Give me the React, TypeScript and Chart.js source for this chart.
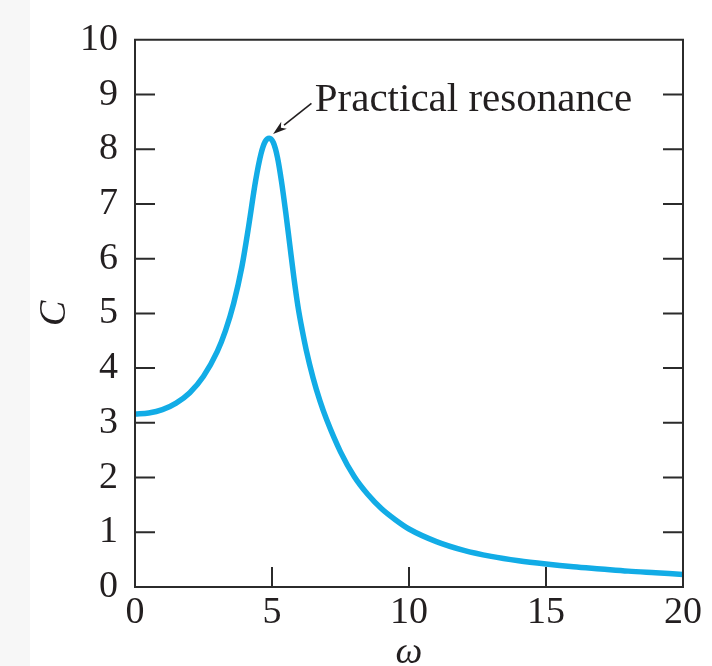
import React, { useEffect, useRef } from 'react';
import { Chart, registerables } from 'chart.js';

Chart.register(...registerables);

// ω values (x) and amplitude C(ω) (y)
const omega = [0, 0.5, 1, 1.5, 2, 2.5, 3, 3.3, 3.6, 3.9, 4.15, 4.4, 4.6, 4.75, 4.9, 5.05, 5.2, 5.35, 5.5, 5.65, 5.8, 5.95, 6.1, 6.25, 6.5, 6.75, 7.0, 7.5, 8.0, 8.5, 9.0, 9.5, 10, 11, 12, 13, 14, 15, 16, 17, 18, 19, 20];
const amplitude = [3.16, 3.18, 3.24, 3.36, 3.55, 3.85, 4.3, 4.68, 5.18, 5.85, 6.6, 7.42, 7.92, 8.14, 8.2, 8.12, 7.85, 7.4, 6.85, 6.25, 5.65, 5.12, 4.7, 4.33, 3.82, 3.4, 3.05, 2.47, 2.02, 1.69, 1.43, 1.23, 1.06, 0.83, 0.67, 0.56, 0.48, 0.42, 0.37, 0.33, 0.29, 0.26, 0.23];

const xTickValues = [0, 5, 10, 15, 20];
const yTickValues = [0, 1, 2, 3, 4, 5, 6, 7, 8, 9, 10];

const xTitle = 'ω';
const yTitle = 'C';
const annotationText = 'Practical resonance';
// annotation anchor (data units): text start, arrow start and arrow tip
const annotationTextAt = [6.56, 8.69];
const arrowFrom = [6.44, 8.84];
const arrowTo = [5.04, 8.28];

const INK = '#231f20';
const CURVE = '#12ace6';
const SERIF = '"Liberation Serif", "Times New Roman", serif';

const framePlugin = {
  id: 'frameAndTicks',
  afterDatasetsDraw(chart: any) {
    const { ctx, chartArea, scales } = chart;
    const xs = scales.x;
    const ys = scales.y;
    const { left, right, top, bottom } = chartArea;
    const tickLen = 20;
    ctx.save();
    ctx.strokeStyle = '#2b2b2b';
    ctx.lineWidth = 2;
    ctx.lineCap = 'butt';
    yTickValues.forEach((v) => {
      if (v === 0 || v === 10) return;
      const py = ys.getPixelForValue(v);
      ctx.beginPath();
      ctx.moveTo(left, py);
      ctx.lineTo(left + tickLen, py);
      ctx.moveTo(right, py);
      ctx.lineTo(right - tickLen, py);
      ctx.stroke();
    });
    xTickValues.forEach((v) => {
      if (v === 0 || v === 20) return;
      const px = xs.getPixelForValue(v);
      ctx.beginPath();
      ctx.moveTo(px, bottom);
      ctx.lineTo(px, bottom - tickLen);
      ctx.stroke();
    });
    ctx.beginPath();
    ctx.rect(left, top, right - left, bottom - top);
    ctx.stroke();

    // annotation
    ctx.fillStyle = INK;
    ctx.font = `41px ${SERIF}`;
    ctx.textAlign = 'left';
    ctx.textBaseline = 'alphabetic';
    ctx.fillText(annotationText, xs.getPixelForValue(annotationTextAt[0]), ys.getPixelForValue(annotationTextAt[1]));

    const x1 = xs.getPixelForValue(arrowFrom[0]);
    const y1 = ys.getPixelForValue(arrowFrom[1]);
    const x2 = xs.getPixelForValue(arrowTo[0]);
    const y2 = ys.getPixelForValue(arrowTo[1]);
    const ang = Math.atan2(y2 - y1, x2 - x1);
    const headLen = 14;
    const headW = 4.5;
    const bx = x2 - headLen * Math.cos(ang);
    const by = y2 - headLen * Math.sin(ang);
    ctx.strokeStyle = INK;
    ctx.lineWidth = 1.6;
    ctx.beginPath();
    ctx.moveTo(x1, y1);
    ctx.lineTo(bx, by);
    ctx.stroke();
    ctx.beginPath();
    ctx.moveTo(x2, y2);
    ctx.lineTo(bx + headW * Math.sin(ang), by - headW * Math.cos(ang));
    ctx.lineTo(x2 - (headLen - 4) * Math.cos(ang), y2 - (headLen - 4) * Math.sin(ang));
    ctx.lineTo(bx - headW * Math.sin(ang), by + headW * Math.cos(ang));
    ctx.closePath();
    ctx.fill();
    ctx.restore();
  },
};

export default function App() {
  const canvasRef = useRef<HTMLCanvasElement | null>(null);

  useEffect(() => {
    if (!canvasRef.current) return;
    const points = omega.map((w, i) => ({ x: w, y: amplitude[i] }));
    const chart = new Chart(canvasRef.current, {
      type: 'line',
      data: {
        datasets: [
          {
            data: points,
            borderColor: CURVE,
            borderWidth: 5.5,
            pointRadius: 0,
            fill: false,
            cubicInterpolationMode: 'monotone',
          },
        ],
      },
      options: {
        animation: false,
        responsive: false,
        maintainAspectRatio: false,
        layout: { padding: { top: 39, right: 29, left: 0, bottom: 0 } },
        plugins: {
          legend: { display: false },
          tooltip: { enabled: false },
        },
        scales: {
          x: {
            type: 'linear',
            min: 0,
            max: 20,
            afterBuildTicks: (s: any) => {
              s.ticks = xTickValues.map((v) => ({ value: v }));
            },
            afterFit: (s: any) => {
              s.height = 79;
            },
            ticks: {
              font: { family: SERIF, size: 38 },
              color: INK,
              padding: 3,
              maxRotation: 0,
              autoSkip: false,
            },
            grid: { display: false, drawTicks: false },
            border: { display: false },
            title: {
              display: true,
              text: xTitle,
              color: INK,
              font: { family: SERIF, size: 38, style: 'italic', lineHeight: 0.8 },
              padding: { top: 0, bottom: -2 },
            },
          },
          y: {
            type: 'linear',
            min: 0,
            max: 10,
            afterBuildTicks: (s: any) => {
              s.ticks = yTickValues.map((v) => ({ value: v }));
            },
            afterFit: (s: any) => {
              s.width = 135;
            },
            ticks: {
              font: { family: SERIF, size: 38 },
              color: INK,
              padding: 17,
              autoSkip: false,
            },
            grid: { display: false, drawTicks: false },
            border: { display: false },
            title: {
              display: true,
              text: yTitle,
              color: INK,
              font: { family: SERIF, size: 38, style: 'italic' },
              padding: { top: 32, bottom: 0 },
            },
          },
        },
      },
      plugins: [framePlugin],
    });
    return () => chart.destroy();
  }, []);

  return (
    <div style={{ position: 'fixed', left: 0, top: 0, width: 712, height: 666, background: '#ffffff', overflow: 'hidden' }}>
      <div style={{ position: 'absolute', left: 0, top: 0, width: 30, height: 666, background: '#f7f7f7' }} />
      <canvas ref={canvasRef} width={712} height={666} style={{ position: 'absolute', left: 0, top: 0, width: 712, height: 666 }} />
    </div>
  );
}
